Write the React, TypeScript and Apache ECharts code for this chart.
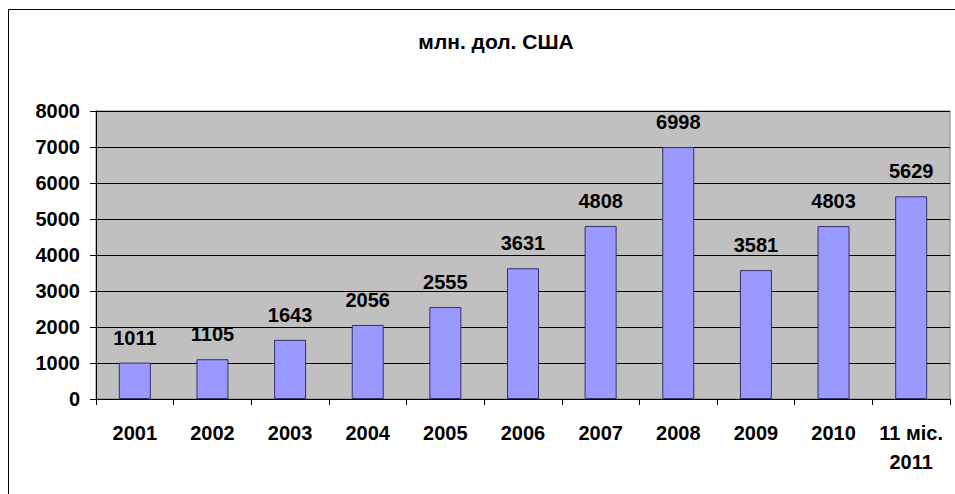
import React, { useEffect, useRef } from "react";
import * as echarts from "echarts";

const categories = ["2001", "2002", "2003", "2004", "2005", "2006", "2007", "2008", "2009", "2010", "11 міс.\n2011"];
const values = [1011, 1105, 1643, 2056, 2555, 3631, 4808, 6998, 3581, 4803, 5629];
const title = "млн. дол. США";

const FONT = "Arial, 'Liberation Sans', sans-serif";

export default function App() {
  const ref = useRef<HTMLDivElement>(null);
  useEffect(() => {
    const chart = echarts.init(ref.current!, null, { renderer: "svg" });
    chart.setOption({
      animation: false,
      backgroundColor: "#ffffff",
      title: {
        text: title,
        left: 491,
        textAlign: "center",
        top: 26,
        textStyle: { fontFamily: FONT, fontWeight: "bold", fontSize: 21, color: "#000" },
      },
      graphic: [
        { type: "line", shape: { x1: 8.5, y1: 9.5, x2: 960, y2: 9.5 }, style: { stroke: "#000", lineWidth: 1 } },
        { type: "line", shape: { x1: 8.5, y1: 9.5, x2: 8.5, y2: 500 }, style: { stroke: "#000", lineWidth: 1 } },
      ],
      grid: {
        left: 96,
        top: 111,
        right: 5,
        bottom: 95,
        show: true,
        backgroundColor: "#C0C0C0",
        borderColor: "#808080",
        borderWidth: 1,
      },
      xAxis: {
        type: "category",
        data: categories,
        axisLine: { show: true, lineStyle: { color: "#000", width: 1 } },
        axisTick: { show: true, length: 6, lineStyle: { color: "#000" } },
        axisLabel: {
          margin: 19,
          fontFamily: FONT,
          fontWeight: "bold",
          fontSize: 20,
          color: "#000",
          lineHeight: 29,
          interval: 0,
        },
      },
      yAxis: {
        type: "value",
        min: 0,
        max: 8000,
        interval: 1000,
        axisLine: { show: true, lineStyle: { color: "#000", width: 1 } },
        axisTick: { show: true, length: 6, lineStyle: { color: "#000" } },
        axisLabel: {
          margin: 16,
          fontFamily: FONT,
          fontWeight: "bold",
          fontSize: 20,
          color: "#000",
          formatter: (v: number) => String(v),
        },
        splitLine: { show: true, lineStyle: { color: "#000", width: 1 } },
      },
      series: [
        {
          type: "bar",
          data: values,
          barWidth: 32,
          itemStyle: { color: "#9999FF", borderColor: "#333366", borderWidth: 1 },
          label: {
            show: true,
            position: "top",
            distance: 15,
            fontFamily: FONT,
            fontWeight: "bold",
            fontSize: 20,
            color: "#000",
          },
        },
      ],
    });
    return () => chart.dispose();
  }, []);
  return <div ref={ref} style={{ position: "absolute", left: 0, top: 0, width: 955, height: 494 }} />;
}
